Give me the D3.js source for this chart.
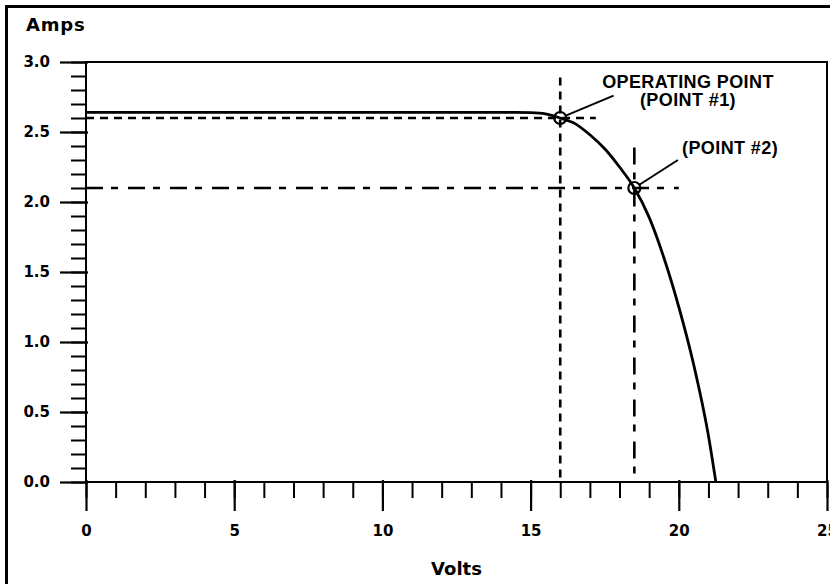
<!DOCTYPE html>
<html>
<head>
<meta charset="utf-8">
<script src="https://cdn.jsdelivr.net/npm/d3@7"></script>
<style>
  html, body { margin: 0; padding: 0; background: #fff; }
  svg { display: block; }
  .tick text { font-family: "DejaVu Sans", sans-serif; font-weight: bold; font-size: 15px; fill: #000; }
</style>
</head>
<body>
<svg id="chart" width="830" height="584"></svg>
<script>
// I-V curve (volts, amps)
const volts = [0, 5, 10, 14.5, 15, 15.5, 16, 16.5, 17, 17.5, 18, 18.5, 19, 19.5, 20, 20.5, 21, 21.25];
const amps  = [2.64, 2.64, 2.64, 2.64, 2.638, 2.63, 2.60, 2.56, 2.48, 2.38, 2.25, 2.10, 1.89, 1.60, 1.25, 0.84, 0.33, 0];

const xMajor = [0, 5, 10, 15, 20, 25];
const yMajor = [0.0, 0.5, 1.0, 1.5, 2.0, 2.5, 3.0];

// marked points
const pointNames = ["Point 1", "Point 2"];
const pointV = [16, 18.5];
const pointI = [2.6, 2.1];
const guideEndV = [17.2, 20];     // where the horizontal guide stops
const guideTopI = [2.89, 2.39];   // where the vertical guide starts
const guideDash = ["8,6", "17,8,7,10"];
const leaderV = [17.8, 19.97];
const leaderI = [2.76, 2.30];
const labelLines = [["OPERATING POINT", "(POINT #1)"], ["(POINT #2)"]];
const labelV = [20.31, 21.73];
const labelI = [2.814, 2.343];

const svg = d3.select("#chart");
const width = 830, height = 584;

svg.append("rect").attr("width", width).attr("height", height).attr("fill", "#fff");
// outer frame (right and bottom fall outside the picture)
svg.append("rect")
    .attr("x", 6.5).attr("y", 6.5)
    .attr("width", 840).attr("height", 600)
    .attr("fill", "none").attr("stroke", "#000").attr("stroke-width", 3);

const x = d3.scaleLinear().domain([0, 25]).range([86, 827]);
const y = d3.scaleLinear().domain([0, 3]).range([482, 62]);

const fmtY = d3.format(".1f");

// minor ticks
svg.append("g")
    .attr("transform", "translate(86,0)")
    .call(d3.axisLeft(y).tickValues(d3.range(0, 31).map(d => d / 10)).tickSize(15).tickFormat(""))
    .call(g => g.select(".domain").remove())
    .call(g => g.selectAll("line").attr("stroke-width", 2));

svg.append("g")
    .attr("transform", "translate(0,482)")
    .call(d3.axisBottom(x).tickValues(d3.range(0, 26)).tickSize(16).tickFormat(""))
    .call(g => g.select(".domain").remove())
    .call(g => g.selectAll("line").attr("stroke-width", 2));

// major ticks with labels
svg.append("g")
    .attr("transform", "translate(88,0)")
    .call(d3.axisLeft(y).tickValues(yMajor).tickSize(28).tickPadding(10).tickFormat(fmtY))
    .call(g => g.select(".domain").remove())
    .call(g => g.selectAll("line").attr("stroke-width", 2.2));

svg.append("g")
    .attr("transform", "translate(0,480)")
    .call(d3.axisBottom(x).tickValues(xMajor).tickSize(31).tickPadding(14))
    .call(g => g.select(".domain").remove())
    .call(g => g.selectAll("line").attr("stroke-width", 2.2));

// plot frame
svg.append("rect")
    .attr("x", x(0)).attr("y", y(3))
    .attr("width", x(25) - x(0)).attr("height", y(0) - y(3))
    .attr("fill", "none").attr("stroke", "#000").attr("stroke-width", 2);

// axis titles
svg.append("text")
    .attr("x", 26).attr("y", 31)
    .attr("font-family", "DejaVu Sans, sans-serif").attr("font-weight", "bold")
    .attr("font-size", 18).attr("letter-spacing", 0.8)
    .text("Amps");

svg.append("text")
    .attr("x", (x(0) + x(25)) / 2).attr("y", 575)
    .attr("text-anchor", "middle")
    .attr("font-family", "DejaVu Sans, sans-serif").attr("font-weight", "bold")
    .attr("font-size", 18)
    .text("Volts");

// guide lines
const guides = svg.append("g").attr("stroke", "#000").attr("stroke-width", 2.6).attr("fill", "none");
pointNames.forEach((name, i) => {
    guides.append("line")
        .attr("x1", x(0)).attr("x2", x(guideEndV[i]))
        .attr("y1", y(pointI[i])).attr("y2", y(pointI[i]))
        .attr("stroke-dasharray", guideDash[i]);
    guides.append("line")
        .attr("x1", x(pointV[i])).attr("x2", x(pointV[i]))
        .attr("y1", y(guideTopI[i])).attr("y2", y(0))
        .attr("stroke-dasharray", guideDash[i]);
});

// the curve
const line = d3.line()
    .x((d, i) => x(volts[i]))
    .y(d => y(d))
    .curve(d3.curveMonotoneX);

svg.append("path")
    .datum(amps)
    .attr("d", line)
    .attr("fill", "none")
    .attr("stroke", "#000")
    .attr("stroke-width", 2.8);

// points, leaders, labels
const r = 6;
pointNames.forEach((name, i) => {
    const px = x(pointV[i]), py = y(pointI[i]);
    svg.append("circle")
        .attr("cx", px).attr("cy", py).attr("r", r)
        .attr("fill", "none").attr("stroke", "#000").attr("stroke-width", 2.2);

    const lx = x(leaderV[i]), ly = y(leaderI[i]);
    const len = Math.hypot(lx - px, ly - py);
    svg.append("line")
        .attr("x1", px + (lx - px) / len * r).attr("y1", py + (ly - py) / len * r)
        .attr("x2", lx).attr("y2", ly)
        .attr("stroke", "#000").attr("stroke-width", 2);

    const t = svg.append("text")
        .attr("text-anchor", "middle")
        .attr("font-family", "Liberation Sans, Arial, sans-serif")
        .attr("font-weight", "bold")
        .attr("font-size", 18)
        .attr("letter-spacing", 0.4);
    labelLines[i].forEach((s, j) => {
        t.append("tspan")
            .attr("x", x(labelV[i]))
            .attr("y", y(labelI[i]) + j * 18)
            .text(s);
    });
});
</script>
</body>
</html>
